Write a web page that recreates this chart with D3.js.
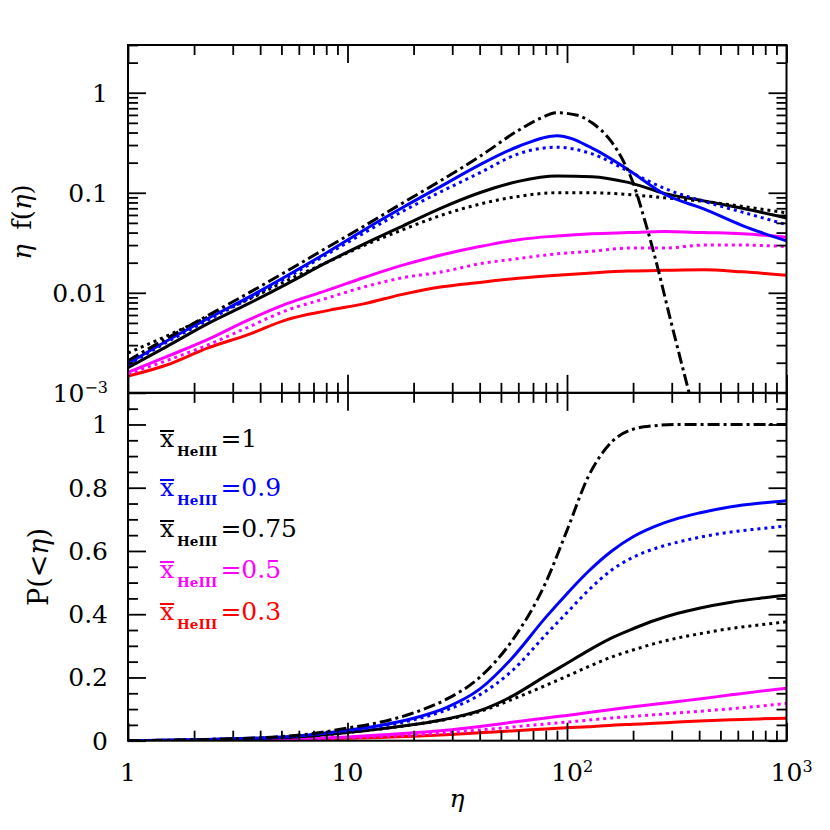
<!DOCTYPE html>
<html>
<head>
<meta charset="utf-8">
<script src="https://cdn.jsdelivr.net/npm/d3@7/dist/d3.min.js"></script>
<style>
    html, body { margin: 0; padding: 0; background: #fff; }
    #chart { width: 830px; height: 830px; }
    text { font-family: "DejaVu Serif", serif; fill: #000; }
</style>
</head>
<body>
<div id="chart"></div>
<script>
//Datos panel superior: eta f(eta)
const etaTop = [1, 1.5, 2.3, 3.5, 5.3, 8, 12, 18, 27, 40, 60, 90, 130, 190, 280, 420, 630, 1000];
const fBlue     = [0.00196, 0.0033, 0.0055, 0.0089, 0.0148, 0.025, 0.043, 0.072, 0.118, 0.19, 0.29, 0.372, 0.28, 0.17, 0.096, 0.069, 0.047, 0.033];
const fBlueDot  = [0.0019, 0.0032, 0.0053, 0.0086, 0.0142, 0.024, 0.04, 0.066, 0.104, 0.158, 0.245, 0.285, 0.245, 0.165, 0.11, 0.082, 0.064, 0.048];
const fBlack    = [0.00178, 0.0029, 0.0049, 0.0077, 0.0123, 0.02, 0.031, 0.047, 0.071, 0.1, 0.13, 0.147, 0.145, 0.127, 0.098, 0.083, 0.07, 0.056];
const fBlackDot = [0.0025, 0.0037, 0.0057, 0.0085, 0.0133, 0.02, 0.03, 0.043, 0.06, 0.077, 0.092, 0.1, 0.1, 0.096, 0.089, 0.082, 0.073, 0.063];
const fMag      = [0.0016, 0.0023, 0.0034, 0.0053, 0.0078, 0.0105, 0.0143, 0.019, 0.024, 0.029, 0.034, 0.037, 0.039, 0.04, 0.041, 0.04, 0.039, 0.036];
const fMagDot   = [0.00155, 0.0021, 0.003, 0.0045, 0.0067, 0.0088, 0.0115, 0.0142, 0.0162, 0.0195, 0.022, 0.0245, 0.026, 0.028, 0.028, 0.03, 0.03, 0.029];
const fRed      = [0.00147, 0.0019, 0.0028, 0.0038, 0.0054, 0.0066, 0.0078, 0.0097, 0.0115, 0.0127, 0.014, 0.015, 0.0158, 0.0165, 0.0168, 0.017, 0.0162, 0.015];

const etaDashTop = [1, 1.5, 2.3, 3.5, 5.3, 8, 12, 18, 27, 40, 60, 75, 90, 110, 130, 160, 180, 200, 225, 250, 300, 360];
const fDash = [0.0021, 0.0035, 0.0059, 0.0098, 0.0165, 0.028, 0.047, 0.08, 0.135, 0.23, 0.42, 0.55, 0.63, 0.6, 0.5, 0.32, 0.21, 0.126, 0.055, 0.024, 0.0048, 0.001];

//Datos panel inferior: P(<eta)
const etaBot = [1, 2, 3, 5, 7, 10, 14, 20, 28, 40, 56, 80, 100, 125, 160, 200, 250, 320, 400, 560, 750, 1000];
const pDash     = [0, 0.003, 0.006, 0.013, 0.023, 0.04, 0.058, 0.088, 0.13, 0.2, 0.315, 0.5, 0.665, 0.835, 0.945, 0.985, 0.996, 1, 1, 1, 1, 1];
const pBlue     = [0, 0.003, 0.006, 0.012, 0.02, 0.033, 0.048, 0.071, 0.104, 0.163, 0.26, 0.39, 0.465, 0.535, 0.6, 0.645, 0.677, 0.703, 0.72, 0.74, 0.751, 0.759];
const pBlueDot  = [0, 0.003, 0.006, 0.011, 0.019, 0.031, 0.045, 0.066, 0.096, 0.145, 0.22, 0.335, 0.405, 0.475, 0.54, 0.58, 0.607, 0.628, 0.643, 0.66, 0.67, 0.679];
const pBlack    = [0, 0.002, 0.005, 0.01, 0.016, 0.026, 0.037, 0.051, 0.068, 0.095, 0.14, 0.205, 0.245, 0.285, 0.325, 0.354, 0.38, 0.403, 0.419, 0.438, 0.45, 0.46];
const pBlackDot = [0, 0.002, 0.005, 0.01, 0.016, 0.026, 0.037, 0.051, 0.067, 0.092, 0.13, 0.175, 0.204, 0.234, 0.265, 0.287, 0.307, 0.325, 0.338, 0.355, 0.366, 0.376];
const pMag      = [0, 0.001, 0.002, 0.004, 0.007, 0.012, 0.018, 0.025, 0.033, 0.045, 0.058, 0.072, 0.08, 0.089, 0.099, 0.107, 0.115, 0.124, 0.132, 0.145, 0.156, 0.166];
const pMagDot   = [0, 0.001, 0.002, 0.0035, 0.0055, 0.009, 0.013, 0.018, 0.025, 0.034, 0.043, 0.053, 0.059, 0.065, 0.072, 0.077, 0.082, 0.088, 0.093, 0.101, 0.109, 0.118];
const pRed      = [0, 0.001, 0.002, 0.0035, 0.005, 0.0075, 0.0105, 0.014, 0.019, 0.025, 0.031, 0.037, 0.041, 0.044, 0.049, 0.052, 0.055, 0.059, 0.062, 0.066, 0.069, 0.071];

//Ticks y leyenda
const xTicks = [1, 10, 100, 1000];
const yTopTicks = [1, 0.1, 0.01, 0.001];
const yBotTicks = [0, 0.2, 0.4, 0.6, 0.8, 1];
const legendValues = ['1', '0.9', '0.75', '0.5', '0.3'];

//Colores fijos
const BLUE = '#0000ff', BLACK = '#000000', MAGENTA = '#ff00ff', RED = '#ff0000';
const DOT = '3,4', DASHDOT = '12,4,3,4';

let margin = {top: 45, right: 43.5, bottom: 89.3, left: 128},
    width = 830 - margin.left - margin.right,
    height = 830 - margin.top - margin.bottom,
    ph = height / 2;

let svg = d3.select('#chart')
    .append('svg')
      .attr('width', 830)
      .attr('height', 830)
    .append('g')
      .attr('transform', 'translate(' + margin.left + ',' + margin.top + ')');

let x = d3.scaleLog().domain([1, 1000]).range([0, width]);
let yTop = d3.scaleLog().domain([1e-3, 3]).range([ph, 0]);
let yBot = d3.scaleLinear().domain([0, 1.1]).range([height, ph]);

//Clips
let defs = svg.append('defs');
defs.append('clipPath').attr('id', 'clipTop').append('rect')
    .attr('x', 0).attr('y', 0).attr('width', width).attr('height', ph);
defs.append('clipPath').attr('id', 'clipBot').append('rect')
    .attr('x', 0).attr('y', ph).attr('width', width).attr('height', ph);

//Series
let topSeries = [
    {eta: etaTop, v: fRed, color: RED, dash: null},
    {eta: etaTop, v: fMagDot, color: MAGENTA, dash: DOT},
    {eta: etaTop, v: fMag, color: MAGENTA, dash: null},
    {eta: etaTop, v: fBlackDot, color: BLACK, dash: DOT},
    {eta: etaTop, v: fBlack, color: BLACK, dash: null},
    {eta: etaTop, v: fBlueDot, color: BLUE, dash: DOT},
    {eta: etaTop, v: fBlue, color: BLUE, dash: null},
    {eta: etaDashTop, v: fDash, color: BLACK, dash: DASHDOT}
];
let botSeries = [
    {v: pRed, color: RED, dash: null},
    {v: pMagDot, color: MAGENTA, dash: DOT},
    {v: pMag, color: MAGENTA, dash: null},
    {v: pBlackDot, color: BLACK, dash: DOT},
    {v: pBlack, color: BLACK, dash: null},
    {v: pBlueDot, color: BLUE, dash: DOT},
    {v: pBlue, color: BLUE, dash: null},
    {v: pDash, color: BLACK, dash: DASHDOT}
];

let lineTop = d3.line()
    .x(function(d) { return x(d[0]); })
    .y(function(d) { return yTop(d[1]); })
    .curve(d3.curveMonotoneX);
let lineBot = d3.line()
    .x(function(d) { return x(d[0]); })
    .y(function(d) { return yBot(d[1]); })
    .curve(d3.curveMonotoneX);

let gTop = svg.append('g').attr('clip-path', 'url(#clipTop)');
topSeries.forEach(function(s) {
    gTop.append('path')
        .datum(s.eta.map(function(e, i) { return [e, s.v[i]]; }))
        .attr('d', lineTop)
        .attr('fill', 'none')
        .attr('stroke', s.color)
        .attr('stroke-width', 3)
        .attr('stroke-dasharray', s.dash);
});

let gBot = svg.append('g').attr('clip-path', 'url(#clipBot)');
botSeries.forEach(function(s) {
    gBot.append('path')
        .datum(etaBot.map(function(e, i) { return [e, s.v[i]]; }))
        .attr('d', lineBot)
        .attr('fill', 'none')
        .attr('stroke', s.color)
        .attr('stroke-width', 3)
        .attr('stroke-dasharray', s.dash);
});

//Ticks
function logMinors(lo, hi) {
    let out = [];
    for (let d = lo; d < hi; d *= 10) {
        for (let k = 2; k <= 9; k++) {
            if (k * d <= hi * 1.0001) out.push(k * d);
        }
    }
    return out;
}
let xMinor = logMinors(1, 1000);
let yTopMinor = logMinors(1e-3, 3);
let yBotMinor = d3.range(0, 22).map(function(i) { return i * 0.05; })
    .filter(function(v) { return Math.abs(v / 0.2 - Math.round(v / 0.2)) > 1e-6; });

function ticks(axisFn, scale, values, size, tx, ty) {
    let g = svg.append('g')
        .attr('transform', 'translate(' + tx + ',' + ty + ')')
        .call(axisFn(scale).tickValues(values).tickSize(size).tickFormat(''));
    g.select('.domain').remove();
    g.selectAll('.tick line').attr('stroke', '#000').attr('stroke-width', 1.8);
}

[0, ph].forEach(function(top) {
    ticks(d3.axisBottom, x, xTicks, 18, 0, top);
    ticks(d3.axisBottom, x, xMinor, 10, 0, top);
    ticks(d3.axisTop, x, xTicks, 18, 0, top + ph);
    ticks(d3.axisTop, x, xMinor, 10, 0, top + ph);
});
ticks(d3.axisRight, yTop, yTopTicks, 18, 0, 0);
ticks(d3.axisRight, yTop, yTopMinor, 10, 0, 0);
ticks(d3.axisLeft, yTop, yTopTicks, 18, width, 0);
ticks(d3.axisLeft, yTop, yTopMinor, 10, width, 0);
ticks(d3.axisRight, yBot, yBotTicks, 18, 0, 0);
ticks(d3.axisRight, yBot, yBotMinor, 10, 0, 0);
ticks(d3.axisLeft, yBot, yBotTicks, 18, width, 0);
ticks(d3.axisLeft, yBot, yBotMinor, 10, width, 0);

//Marco
[0, ph].forEach(function(top) {
    svg.append('rect')
        .attr('x', 0).attr('y', top)
        .attr('width', width).attr('height', ph)
        .attr('fill', 'none')
        .attr('stroke', '#000')
        .attr('stroke-width', 2);
});

//Etiquetas de los ejes
let FS = 25;
xTicks.forEach(function(v) {
    let p = Math.round(Math.log10(v));
    if (p < 2) {
        svg.append('text')
            .attr('x', x(v)).attr('y', height + 40)
            .attr('text-anchor', 'middle')
            .style('font-size', FS + 'px')
            .text(String(v));
    } else {
        let t = svg.append('text')
            .attr('x', x(v)).attr('y', height + 40)
            .attr('text-anchor', 'middle')
            .style('font-size', FS + 'px')
            .text('10');
        let w = t.node().getComputedTextLength();
        svg.append('text')
            .attr('x', x(v) + w / 2).attr('y', height + 31)
            .style('font-size', '16px')
            .text(String(p));
    }
});

yTopTicks.forEach(function(v) {
    let t = svg.append('text')
        .attr('x', -20).attr('y', yTop(v) + 9)
        .attr('text-anchor', 'end')
        .style('font-size', FS + 'px');
    if (v < 0.005) {
        t.append('tspan').text('10');
        t.append('tspan').attr('dy', -9).style('font-size', '16px').text('\u2212' + Math.round(-Math.log10(v)));
    } else {
        t.text(String(v));
    }
});

yBotTicks.forEach(function(v) {
    svg.append('text')
        .attr('x', -20).attr('y', yBot(v) + 9)
        .attr('text-anchor', 'end')
        .style('font-size', FS + 'px')
        .text(String(v));
});

//Títulos
svg.append('text')
    .attr('x', 329).attr('y', height + 66)
    .attr('text-anchor', 'middle')
    .style('font-size', FS + 'px')
    .style('font-style', 'italic')
    .text('\u03b7');

let yt1 = svg.append('text')
    .attr('transform', 'translate(-97,177) rotate(-90)')
    .attr('text-anchor', 'middle')
    .style('font-size', '26px');
yt1.append('tspan').style('font-style', 'italic').text('\u03b7');
yt1.append('tspan').attr('dx', 6).text('\u00a0f(');
yt1.append('tspan').style('font-style', 'italic').text('\u03b7');
yt1.append('tspan').text(')');

let yt2 = svg.append('text')
    .attr('transform', 'translate(-80,522) rotate(-90)')
    .attr('text-anchor', 'middle')
    .style('font-size', '27px');
yt2.append('tspan').text('P(<');
yt2.append('tspan').style('font-style', 'italic').text('\u03b7');
yt2.append('tspan').text(')');

//Leyenda
let legendColors = [BLACK, BLUE, BLACK, MAGENTA, RED];
let legendBase = [402, 451, 492, 533, 575];
legendValues.forEach(function(val, i) {
    let t = svg.append('text')
        .attr('x', 32).attr('y', legendBase[i])
        .style('font-size', FS + 'px')
        .style('fill', legendColors[i]);
    let tx = t.append('tspan').text('x');
    t.append('tspan')
        .attr('dx', 3).attr('dy', 9)
        .style('font-size', '13.5px')
        .style('font-weight', 'bold')
        .text('HeIII');
    t.append('tspan')
        .attr('dx', 3).attr('dy', -9)
        .text('=' + val);
    let w = tx.node().getComputedTextLength();
    svg.append('line')
        .attr('x1', 32).attr('x2', 32 + w)
        .attr('y1', legendBase[i] - 16).attr('y2', legendBase[i] - 16)
        .attr('stroke', legendColors[i])
        .attr('stroke-width', 2);
});
</script>
</body>
</html>
